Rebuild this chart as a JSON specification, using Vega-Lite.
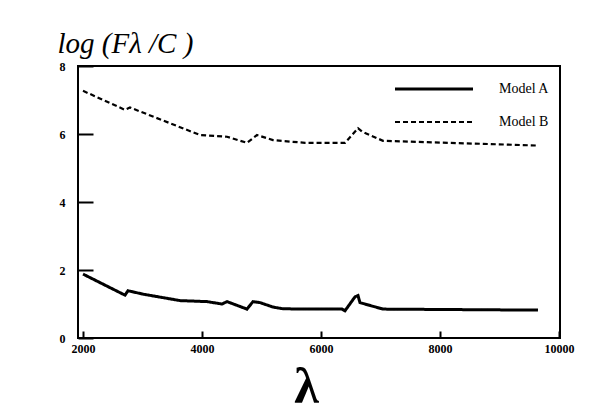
{
  "$schema": "https://vega.github.io/schema/vega-lite/v6.json",
  "width": 482,
  "height": 272,
  "autosize": "none",
  "padding": {"left": 78, "top": 66, "right": 50, "bottom": 77},
  "background": "white",
  "config": {
    "view": {"stroke": "black", "strokeWidth": 2},
    "font": "Liberation Serif"
  },
  "data": {
    "values": [
      {"model": "Model A", "x": 2000, "y": 1.88},
      {"model": "Model A", "x": 2706, "y": 1.26},
      {"model": "Model A", "x": 2756, "y": 1.39},
      {"model": "Model A", "x": 3008, "y": 1.29},
      {"model": "Model A", "x": 3630, "y": 1.10},
      {"model": "Model A", "x": 4084, "y": 1.07},
      {"model": "Model A", "x": 4336, "y": 1.00},
      {"model": "Model A", "x": 4420, "y": 1.07},
      {"model": "Model A", "x": 4756, "y": 0.85},
      {"model": "Model A", "x": 4857, "y": 1.07},
      {"model": "Model A", "x": 4975, "y": 1.04},
      {"model": "Model A", "x": 5193, "y": 0.91},
      {"model": "Model A", "x": 5361, "y": 0.86},
      {"model": "Model A", "x": 5731, "y": 0.85},
      {"model": "Model A", "x": 6353, "y": 0.85},
      {"model": "Model A", "x": 6403, "y": 0.80},
      {"model": "Model A", "x": 6571, "y": 1.21},
      {"model": "Model A", "x": 6622, "y": 1.25},
      {"model": "Model A", "x": 6655, "y": 1.04},
      {"model": "Model A", "x": 7042, "y": 0.85},
      {"model": "Model A", "x": 9647, "y": 0.82},
      {"model": "Model B", "x": 2000, "y": 7.27},
      {"model": "Model B", "x": 2706, "y": 6.71},
      {"model": "Model B", "x": 2790, "y": 6.78},
      {"model": "Model B", "x": 3966, "y": 5.97},
      {"model": "Model B", "x": 4420, "y": 5.92},
      {"model": "Model B", "x": 4756, "y": 5.74},
      {"model": "Model B", "x": 4924, "y": 5.97},
      {"model": "Model B", "x": 5193, "y": 5.82},
      {"model": "Model B", "x": 5731, "y": 5.74},
      {"model": "Model B", "x": 6403, "y": 5.74},
      {"model": "Model B", "x": 6622, "y": 6.17},
      {"model": "Model B", "x": 6689, "y": 6.07},
      {"model": "Model B", "x": 7042, "y": 5.80},
      {"model": "Model B", "x": 9647, "y": 5.66}
    ]
  },
  "mark": {"type": "line", "color": "black", "strokeJoin": "miter"},
  "encoding": {
    "x": {
      "field": "x", "type": "quantitative",
      "scale": {"domain": [1916, 10017], "nice": false, "zero": false},
      "axis": {
        "values": [2000, 4000, 6000, 8000, 10000], "format": "d",
        "grid": false, "domain": false,
        "tickSize": -7, "tickWidth": 2, "tickColor": "black",
        "labelPadding": 12, "labelDx": -15,
        "labelFont": "Liberation Serif", "labelFontWeight": "bold", "labelFontSize": 12, "labelColor": "black",
        "title": "λ", "titleFont": "Liberation Serif", "titleFontSize": 50, "titleFontWeight": "bold", "titleColor": "black",
        "titleX": 228, "titleY": 64, "titleBaseline": "alphabetic", "titleAlign": "center"
      }
    },
    "y": {
      "field": "y", "type": "quantitative",
      "scale": {"domain": [0, 8], "nice": false},
      "axis": {
        "values": [0, 2, 4, 6, 8],
        "grid": false, "domain": false,
        "tickSize": -15, "tickWidth": 2, "tickColor": "black",
        "labelPadding": 28, "labelDy": 2,
        "labelFont": "Liberation Serif", "labelFontWeight": "bold", "labelFontSize": 12, "labelColor": "black",
        "title": "log (Fλ /C )", "titleFont": "Liberation Serif", "titleFontSize": 29, "titleFontStyle": "italic", "titleFontWeight": "normal", "titleColor": "black",
        "titleAngle": 0, "titleX": -21, "titleY": -14, "titleAlign": "left", "titleBaseline": "alphabetic"
      }
    },
    "strokeDash": {
      "field": "model", "type": "nominal",
      "scale": {"domain": ["Model A", "Model B"], "range": [[1, 0], [5, 3]]},
      "legend": {
        "title": null, "orient": "none", "legendX": 348, "legendY": 15,
        "symbolType": "M-6,0H6", "symbolSize": 169, "symbolStrokeColor": "black",
        "labelOffset": 57, "labelFontSize": 14, "labelFont": "Liberation Serif", "labelColor": "black",
        "rowPadding": 18
      }
    },
    "strokeWidth": {
      "field": "model", "type": "nominal",
      "scale": {"domain": ["Model A", "Model B"], "range": [3, 2.2]},
      "legend": {
        "title": null, "orient": "none", "legendX": 348, "legendY": 15,
        "symbolType": "M-6,0H6", "symbolSize": 169, "symbolStrokeColor": "black",
        "labelOffset": 57, "labelFontSize": 14, "labelFont": "Liberation Serif", "labelColor": "black",
        "rowPadding": 18
      }
    }
  }
}
